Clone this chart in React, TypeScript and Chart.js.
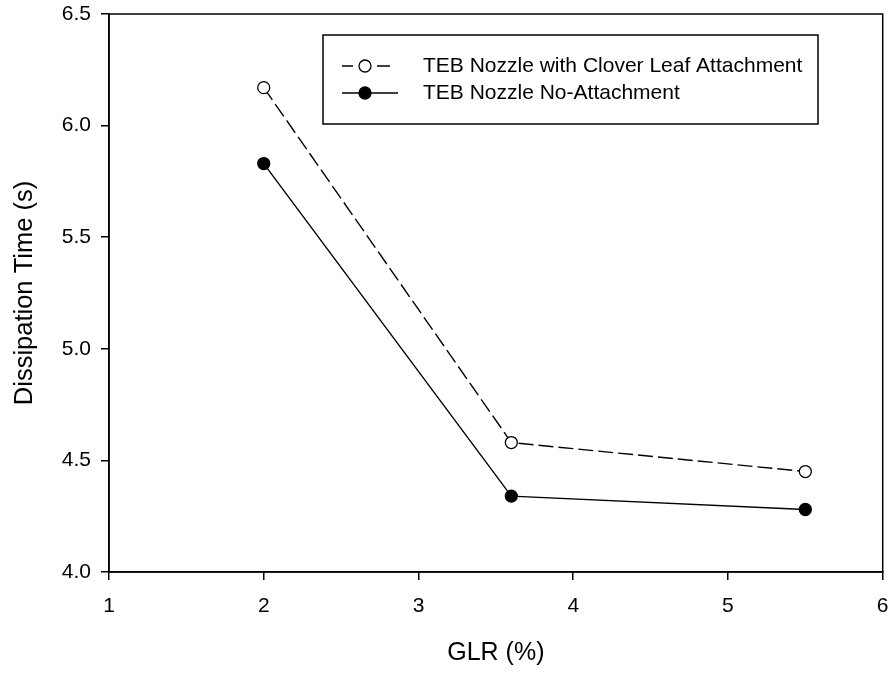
import React, { useEffect, useRef } from "react";
import { Chart, registerables } from "chart.js";

Chart.register(...registerables);

const glr = [2, 3.6, 5.5];
const cloverLeaf = [6.17, 4.58, 4.45];
const noAttachment = [5.83, 4.34, 4.28];
const seriesLabels = ["TEB Nozzle with Clover Leaf Attachment", "TEB Nozzle No-Attachment"];
const xTitle = "GLR (%)";
const yTitle = "Dissipation Time (s)";

const FONT = "'Liberation Sans', Arial, Helvetica, sans-serif";

const framePlugin = {
  id: "frame",
  afterDraw(chart: any) {
    const { ctx, chartArea } = chart;
    ctx.save();
    ctx.strokeStyle = "#000";
    ctx.lineWidth = 1.5;
    ctx.strokeRect(chartArea.left, chartArea.top, chartArea.right - chartArea.left, chartArea.bottom - chartArea.top);
    ctx.restore();
  },
};

const legendPlugin = {
  id: "boxLegend",
  afterDraw(chart: any) {
    const { ctx } = chart;
    const box = { x: 323, y: 35, w: 495, h: 89 };
    ctx.save();
    ctx.strokeStyle = "#000";
    ctx.lineWidth = 1.5;
    ctx.strokeRect(box.x, box.y, box.w, box.h);
    const rows = [66, 93];
    chart.data.datasets.forEach((ds: any, i: number) => {
      const y = rows[i];
      const x0 = box.x + 19;
      const x1 = box.x + 75;
      const xm = box.x + 42;
      ctx.beginPath();
      ctx.setLineDash([]);
      ctx.lineWidth = 1.5;
      ctx.strokeStyle = "#000";
      if (ds.borderDash && ds.borderDash.length) {
        ctx.moveTo(x0, y);
        ctx.lineTo(xm - 12, y);
        ctx.moveTo(xm + 12, y);
        ctx.lineTo(xm + 25, y);
      } else {
        ctx.moveTo(x0, y);
        ctx.lineTo(x1, y);
      }
      ctx.stroke();
      ctx.beginPath();
      ctx.arc(xm, y, 6, 0, Math.PI * 2);
      ctx.fillStyle = ds.pointBackgroundColor;
      ctx.fill();
      ctx.lineWidth = 1.3;
      ctx.stroke();
      ctx.fillStyle = "#000";
      ctx.font = `21px ${FONT}`;
      ctx.textBaseline = "middle";
      ctx.textAlign = "left";
      ctx.fillText(ds.label, box.x + 100, y);
    });
    ctx.restore();
  },
};

export default function App() {
  const ref = useRef<HTMLCanvasElement | null>(null);
  useEffect(() => {
    document.body.style.margin = "0";
    const canvas = ref.current;
    if (!canvas) return;
    const chart = new Chart(canvas, {
      type: "line",
      data: {
        datasets: [
          {
            label: seriesLabels[0],
            data: glr.map((x, i) => ({ x, y: cloverLeaf[i] })),
            borderColor: "#000",
            borderWidth: 1.4,
            borderDash: [15, 5],
            pointRadius: 6,
            pointBorderWidth: 1.3,
            pointBackgroundColor: "#fff",
            pointBorderColor: "#000",
            tension: 0,
          },
          {
            label: seriesLabels[1],
            data: glr.map((x, i) => ({ x, y: noAttachment[i] })),
            borderColor: "#000",
            borderWidth: 1.4,
            pointRadius: 6,
            pointBorderWidth: 1.3,
            pointBackgroundColor: "#000",
            pointBorderColor: "#000",
            tension: 0,
          },
        ],
      },
      options: {
        animation: false,
        responsive: false,
        layout: { padding: { top: 14, right: 7, left: 0, bottom: 0 } },
        plugins: { legend: { display: false }, tooltip: { enabled: false } },
        scales: {
          x: {
            type: "linear",
            min: 1,
            max: 6,
            ticks: { stepSize: 1, color: "#000", font: { family: FONT, size: 21 }, padding: 14, maxRotation: 0 },
            grid: { drawOnChartArea: false, drawTicks: true, tickLength: 8, color: "#000", lineWidth: 1.5 },
            border: { display: true, color: "#000", width: 1.5 },
            title: { display: true, text: xTitle, color: "#000", font: { family: FONT, size: 25 }, padding: { top: 0, bottom: 5 } },
            afterFit: (s: any) => {
              s.height = 101;
              s.paddingLeft = 0;
              s.paddingRight = 0;
            },
          },
          y: {
            type: "linear",
            min: 4,
            max: 6.5,
            ticks: {
              stepSize: 0.5,
              color: "#000",
              font: { family: FONT, size: 21 },
              padding: 10,
              callback: (v: any) => Number(v).toFixed(1),
            },
            grid: { drawOnChartArea: false, drawTicks: true, tickLength: 8, color: "#000", lineWidth: 1.5 },
            border: { display: true, color: "#000", width: 1.5 },
            title: { display: true, text: yTitle, color: "#000", font: { family: FONT, size: 25.5 }, padding: { top: 10, bottom: 0 } },
            afterFit: (s: any) => {
              s.width = 109;
              s.paddingTop = 0;
              s.paddingBottom = 0;
            },
          },
        },
      },
      plugins: [framePlugin, legendPlugin],
    } as any);
    return () => chart.destroy();
  }, []);
  return (
    <div style={{ width: 890, height: 673 }}>
      <canvas ref={ref} width={890} height={673} style={{ width: 890, height: 673, display: "block" }} />
    </div>
  );
}
